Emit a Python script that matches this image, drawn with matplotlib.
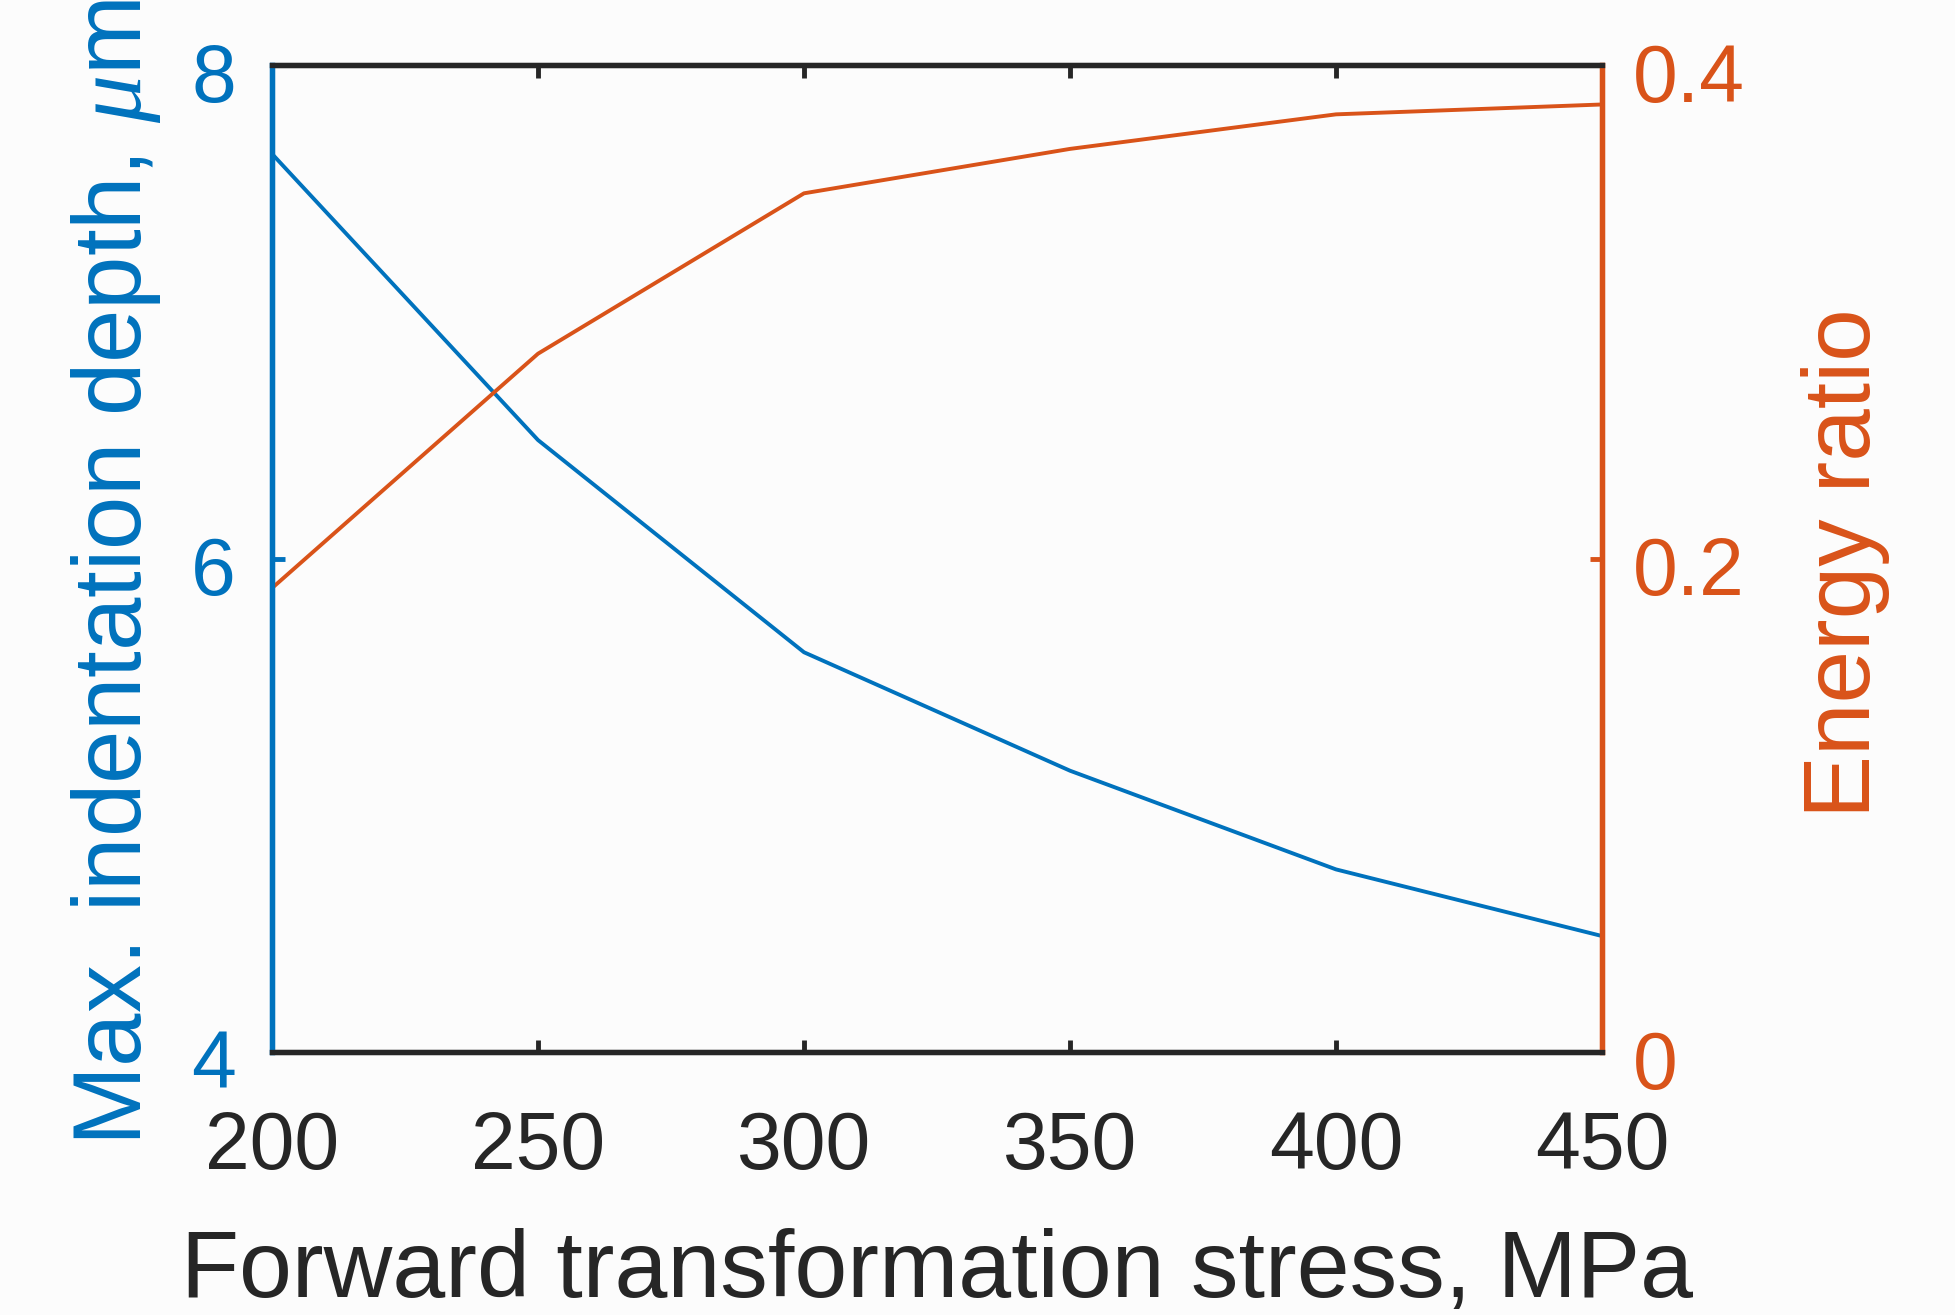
import numpy as np
import matplotlib
matplotlib.use("Agg")
from matplotlib import pyplot as plt
from matplotlib import transforms

# data
stress = [200, 250, 300, 350, 400, 450]
depth = [7.64, 6.48, 5.62, 5.14, 4.74, 4.47]
energy_ratio = [0.188, 0.283, 0.348, 0.366, 0.380, 0.384]

x_ticks = [200, 250, 300, 350, 400, 450]
depth_ticks = [4, 6, 8]
ratio_ticks = [0, 0.2, 0.4]

blue = '#0072BD'
orange = '#D95319'
dark = '#262626'
bg = '#fcfcfc'

plt.rcParams['font.family'] = ['Liberation Sans', 'DejaVu Sans']
plt.rcParams['mathtext.fontset'] = 'custom'
plt.rcParams['mathtext.it'] = 'Liberation Serif:italic'
plt.rcParams['mathtext.rm'] = 'Liberation Sans'

fig = plt.figure(figsize=(19.56, 13.15), dpi=100, facecolor=bg)
ax1 = fig.add_axes([272 / 1956, 1 - 1052 / 1315, 1330 / 1956, 987 / 1315])
ax1.set_facecolor(bg)
ax2 = ax1.twinx()

# left axis: indentation depth
ax1.plot(stress, depth, color=blue, lw=2.8)
ax1.set_xlim(200, 450)
ax1.set_ylim(4, 8)
ax1.set_xticks(x_ticks)
ax1.set_yticks(depth_ticks)
ax1.tick_params(axis='x', direction='in', length=9, width=3.5, colors=dark,
                labelsize=58, pad=42, top=True)
ax1.tick_params(axis='y', direction='in', length=9, width=3.5, colors=blue,
                labelsize=58, pad=26)
ax1.set_ylabel(r'Max. indentation depth, $\mu$m', color=blue, fontsize=69)
ax1.yaxis.set_label_coords(-0.082, 0.486)
ax1.set_xlabel('Forward transformation stress, MPa', color=dark, fontsize=68.5)
ax1.xaxis.set_label_coords(0.5, -0.178)

# right axis: energy ratio
ax2.plot(stress, energy_ratio, color=orange, lw=2.8)
ax2.set_ylim(0, 0.4)
ax2.set_yticks(ratio_ticks)
ax2.set_yticklabels(['0', '0.2', '0.4'])
ax2.tick_params(axis='y', direction='in', length=9, width=3.5, colors=orange,
                labelsize=58, pad=22)
ax2.set_ylabel('Energy ratio', color=orange, fontsize=68, rotation=90, va='top')
ax2.yaxis.set_label_coords(1.150, 0.495)

# tick labels sit a little below their ticks in the reference
shift = transforms.ScaledTranslation(0, -7 / 100, fig.dpi_scale_trans)
for lbl in ax1.get_yticklabels() + ax2.get_yticklabels():
    lbl.set_transform(lbl.get_transform() + shift)

for ax in (ax1, ax2):
    for s in ax.spines.values():
        s.set_linewidth(3.8)
    ax.spines['top'].set_color(dark)
    ax.spines['bottom'].set_color(dark)
    ax.spines['left'].set_color(blue)
    ax.spines['right'].set_color(orange)

fig.savefig('out.png', dpi=100, facecolor=bg)
